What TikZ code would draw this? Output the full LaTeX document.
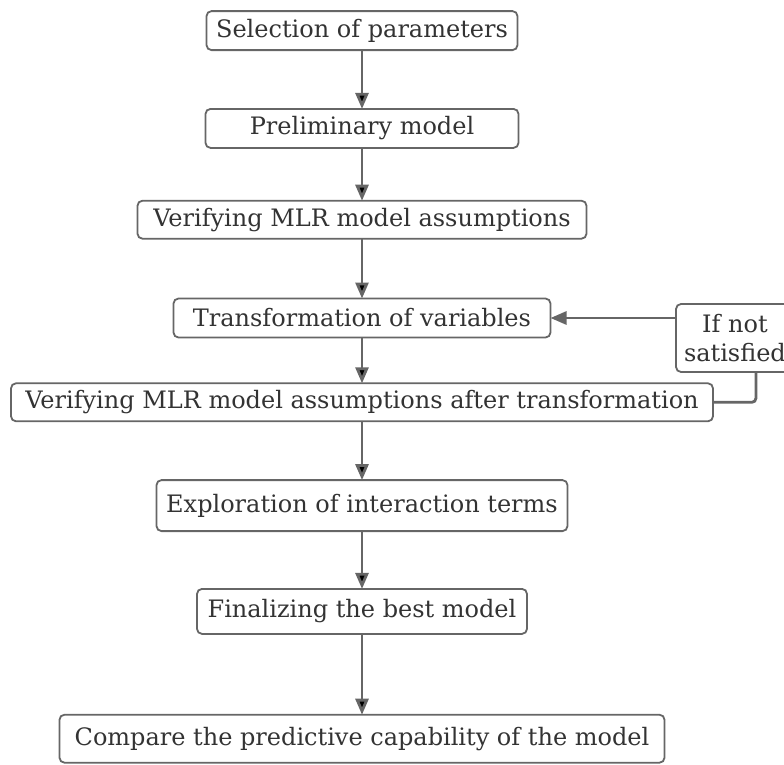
\documentclass[tikz,border=0pt]{standalone}
\usepackage{fontspec}
\setmainfont{DejaVu Serif}
\usepackage{tikz}
\usetikzlibrary{matrix,arrows.meta}
\definecolor{linegray}{HTML}{666666}
\definecolor{textgray}{HTML}{333333}

\begin{document}
\begin{tikzpicture}[x=1pt,y=1pt,
  box/.style={draw=linegray, line width=1.8pt, rounded corners=5pt, fill=white, outer sep=0pt,
    text=textgray, font=\fontsize{24}{29}\selectfont, inner xsep=8pt, inner ysep=3pt},
  flow/.style={draw=linegray, line width=2.8pt, -{Triangle[length=16pt,width=13pt]}}]
  \useasboundingbox (0,0) rectangle (784,-765);
  \matrix (m) [matrix of nodes, nodes={box, minimum height=39pt}, row sep=0pt, inner sep=0pt, anchor=north] at (362,-10)
  {
|[minimum width=311pt]| Selection of parameters \\[57pt]
|[minimum width=313pt]| Preliminary model \\[51pt]
|[minimum width=449pt, minimum height=38pt]| Verifying MLR model assumptions \\[58pt]
|[minimum width=377pt]| Transformation of variables \\[44pt]
|[minimum width=702pt, minimum height=38pt]| Verifying MLR model assumptions after transformation \\[57pt]
|[minimum width=411pt, minimum height=51pt]| Exploration of interaction terms \\[56pt]
|[minimum width=330pt, minimum height=45pt]| Finalizing the best model \\[79pt]
|[minimum width=605pt, minimum height=48pt]| Compare the predictive capability of the model \\
};
  \node[box, align=center, minimum width=117pt, minimum height=68pt, anchor=north west] (ifn) at (676,-304) {If not\\satisfied};
  \path[flow]
  (m-1-1) edge (m-2-1)
  (m-2-1) edge (m-3-1)
  (m-3-1) edge (m-4-1)
  (m-4-1) edge (m-5-1)
  (m-5-1) edge (m-6-1)
  (m-6-1) edge (m-7-1)
  (m-7-1) edge (m-8-1)
  ;
  % loop back when the assumptions still fail
  \draw[flow] (m-4-1.east -| ifn.west) -- (m-4-1.east);
  \draw[draw=linegray, line width=2.8pt, rounded corners=4pt] (m-5-1.east) -| ([xshift=21pt]ifn.south);
\end{tikzpicture}
\end{document}
